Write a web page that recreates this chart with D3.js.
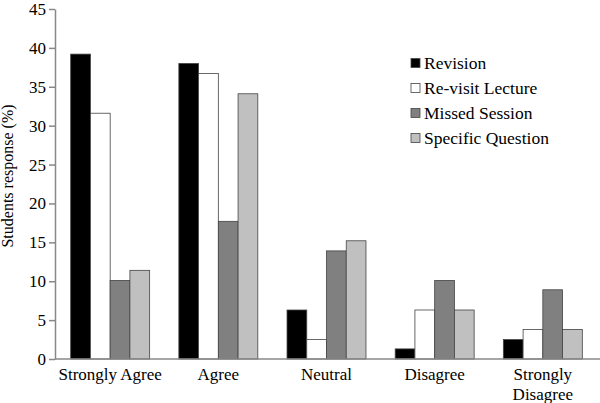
<!DOCTYPE html>
<html>
<head>
    <script src="https://d3js.org/d3.v7.min.js"></script>
    <style>
        body { margin: 0; background: #fff; }
        text { font-family: "Liberation Serif", "Times New Roman", serif; fill: #000; }
    </style>
</head>
<body>
    <div id="chart"></div>
    <script>
        // Data
        const categories = ['Strongly Agree', 'Agree', 'Neutral', 'Disagree', 'Strongly Disagree'];
        const seriesNames = ['Revision', 'Re-visit Lecture', 'Missed Session', 'Specific Question'];
        const revision = [39.2, 38.0, 6.3, 1.3, 2.5];
        const revisitLecture = [31.6, 36.7, 2.5, 6.3, 3.8];
        const missedSession = [10.1, 17.7, 13.9, 10.1, 8.9];
        const specificQuestion = [11.4, 34.1, 15.2, 6.3, 3.8];
        const yTicks = [0, 5, 10, 15, 20, 25, 30, 35, 40, 45];

        const series = [revision, revisitLecture, missedSession, specificQuestion];
        const colors = ['#000000', '#ffffff', '#808080', '#c0c0c0'];

        const width = 600, height = 403;
        const margin = {top: 9, right: 2, bottom: 44, left: 55};

        const svg = d3.select('#chart').append('svg')
            .attr('width', width)
            .attr('height', height);

        const x0 = d3.scaleBand()
            .domain(categories)
            .range([margin.left, width - margin.right])
            .paddingInner(0.27)
            .paddingOuter(0.145);

        const x1 = d3.scaleBand()
            .domain(d3.range(series.length))
            .range([0, x0.bandwidth()]);

        const y = d3.scaleLinear()
            .domain([0, 45])
            .range([height - margin.bottom, margin.top]);

        // Bars
        categories.forEach((cat, i) => {
            const g = svg.append('g').attr('transform', `translate(${x0(cat)},0)`);
            g.selectAll('rect')
                .data(series.map((s, j) => ({j: j, v: s[i]})))
                .enter().append('rect')
                .attr('x', d => x1(d.j))
                .attr('width', x1.bandwidth())
                .attr('y', d => y(d.v))
                .attr('height', d => y(0) - y(d.v))
                .attr('fill', d => colors[d.j])
                .attr('stroke', '#444')
                .attr('stroke-width', 0.8);
        });

        // Y axis
        const yAxis = svg.append('g')
            .attr('transform', `translate(${margin.left},0)`)
            .call(d3.axisLeft(y).tickValues(yTicks).tickSize(6).tickSizeOuter(0).tickPadding(3));
        yAxis.select('.domain').attr('stroke', '#888').attr('stroke-width', 1.5);
        yAxis.selectAll('.tick line').attr('stroke', '#888').attr('stroke-width', 1.5);
        yAxis.selectAll('.tick text')
            .style('font-family', '"Liberation Serif", serif')
            .style('font-size', '17px')
            .attr('fill', '#000');

        // X axis line
        svg.append('line')
            .attr('x1', margin.left).attr('x2', width)
            .attr('y1', y(0)).attr('y2', y(0))
            .attr('stroke', '#888').attr('stroke-width', 1.5);

        // X labels
        categories.forEach(cat => {
            const cx = x0(cat) + x0.bandwidth() / 2;
            const words = cat === 'Strongly Disagree' ? ['Strongly', 'Disagree'] : [cat];
            const t = svg.append('text')
                .attr('x', cx)
                .attr('y', y(0) + 21)
                .attr('text-anchor', 'middle')
                .style('font-size', '17px');
            words.forEach((w, k) => {
                t.append('tspan').attr('x', cx).attr('dy', k === 0 ? 0 : 20).text(w);
            });
        });

        // Y label
        svg.append('text')
            .attr('transform', 'translate(13,176) rotate(-90)')
            .attr('text-anchor', 'middle')
            .style('font-size', '16px')
            .text('Students response (%)');

        // Legend
        const legend = svg.append('g').attr('transform', 'translate(411,63)');
        seriesNames.forEach((name, i) => {
            const row = legend.append('g').attr('transform', `translate(0,${i * 25})`);
            row.append('rect')
                .attr('x', 0).attr('y', -4.5)
                .attr('width', 9).attr('height', 9)
                .attr('fill', colors[i])
                .attr('stroke', '#444')
                .attr('stroke-width', 0.8);
            row.append('text')
                .attr('x', 13)
                .attr('y', 6)
                .style('font-size', '17.5px')
                .text(name);
        });
    </script>
</body>
</html>
